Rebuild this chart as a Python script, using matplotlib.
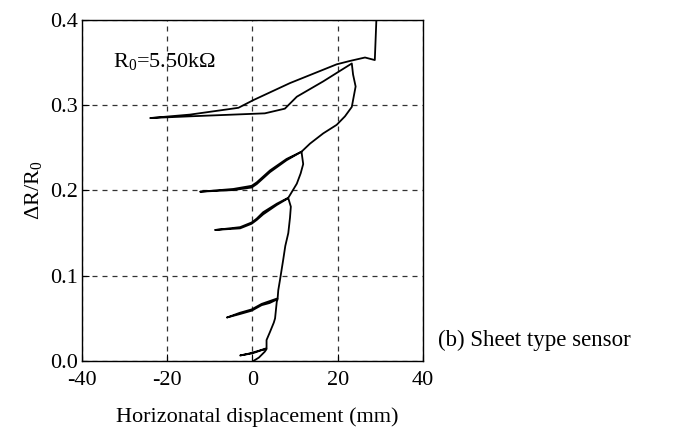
import matplotlib
matplotlib.use("Agg")
import matplotlib.pyplot as plt

plt.rcParams["font.family"] = ["Liberation Serif", "DejaVu Serif"]
plt.rcParams["mathtext.fontset"] = "custom"
plt.rcParams["mathtext.rm"] = "Liberation Serif"
plt.rcParams["mathtext.default"] = "regular"
plt.rcParams["axes.unicode_minus"] = False

# horizontal displacement (mm) and resistance change ratio, traced in time order
# cycle 1 (small loop near origin) and rise to next peak
c1_x = [0.2, 1.5, 2.9, 3.3, 2.0, 0.0, -2.9, -1.0, 1.5, 3.3, 3.3, 4.1, 5.0, 5.3, 5.7, 5.9]
c1_y = [0.0, 0.004, 0.011, 0.014, 0.0125, 0.009, 0.0065, 0.0085, 0.012, 0.015,
        0.0246, 0.034, 0.045, 0.05, 0.0696, 0.0725]
# cycle 2
c2_x = [4.0, 2.15, -0.2, -3.0, -6.0, -3.0, -0.2, 2.15, 5.9,
        6.05, 6.45, 7.2, 7.7, 8.4, 8.8, 9.0, 8.4]
c2_y = [0.068, 0.0655, 0.059, 0.055, 0.051, 0.0565, 0.0605, 0.067, 0.0735,
        0.083, 0.095, 0.1185, 0.135, 0.15, 0.168, 0.181, 0.191]
# cycle 3
c3_x = [5.7, 2.5, 0.99, -0.2, -2.9, -8.8, -2.9, -0.2, 0.99, 2.5, 5.7, 8.4,
        8.8, 10.4, 11.3, 11.9, 11.5]
c3_y = [0.183, 0.172, 0.1654, 0.161, 0.1556, 0.1537, 0.157, 0.1625, 0.167, 0.1745, 0.1845, 0.1915,
        0.1947, 0.208, 0.22, 0.231, 0.2455]
# cycle 4
c4_x = [8.0, 4.1, 0.99, -0.2, -4.5, -12.3, -4.5, -0.2, 0.99, 4.1, 8.0, 11.5,
        13.5, 16.6, 19.75, 21.7, 23.3, 24.2, 23.6, 23.3]
c4_y = [0.2355, 0.2215, 0.2075, 0.2035, 0.2005, 0.1986, 0.2018, 0.2055, 0.2095, 0.2235, 0.237, 0.2455,
        0.255, 0.267, 0.277, 0.287, 0.298, 0.322, 0.336, 0.349]
# cycle 5 (lower branch out, upper branch back, then off scale)
c5_x = [16.6, 10.4, 7.6, 2.9, -14.7, -24.0, -14.7, -3.3, 0.19, 8.8, 19.75, 22.9, 26.4, 28.7, 29.3]
c5_y = [0.328, 0.31, 0.296, 0.2905, 0.287, 0.285, 0.289, 0.297, 0.306, 0.326, 0.348, 0.352,
        0.356, 0.353, 0.43]

x_ticks = [-40, -20, 0, 20, 40]
y_ticks = [0.0, 0.1, 0.2, 0.3, 0.4]

disp = c1_x + c2_x + c3_x + c4_x + c5_x
ratio = c1_y + c2_y + c3_y + c4_y + c5_y

fig = plt.figure(figsize=(6.81, 4.29), dpi=100)
ax = fig.add_axes([0.1204, 0.1585, 0.5007, 0.7949])

ax.plot(disp, ratio, color="black", linewidth=1.3)

ax.set_xlim(-40, 40)
ax.set_ylim(0, 0.4)
ax.set_xticks(x_ticks)
ax.set_yticks(y_ticks)
ax.set_yticklabels([f"{v:.1f}" for v in y_ticks])
ax.grid(True, color="#333333", linestyle=(0, (4, 4)), linewidth=0.9)
ax.tick_params(direction="in", length=5, labelsize=16, color="black")
ax.tick_params(axis="x", pad=7)
ax.tick_params(axis="y", pad=3)
for s in ax.spines.values():
    s.set_linewidth(1.0)

ax.set_xlabel("Horizonatal displacement (mm)", fontsize=16, labelpad=10)
ax.xaxis.set_label_coords(0.515, -0.135)
ax.set_ylabel("ΔR/R$_0$", fontsize=16, labelpad=4)

ax.text(-32.7, 0.351, "R$_0$=5.50kΩ", fontsize=16, va="center", ha="left")
fig.text(0.643, 0.207, "(b) Sheet type sensor", fontsize=16.5, va="center", ha="left")

fig.savefig("out.png", dpi=100)
